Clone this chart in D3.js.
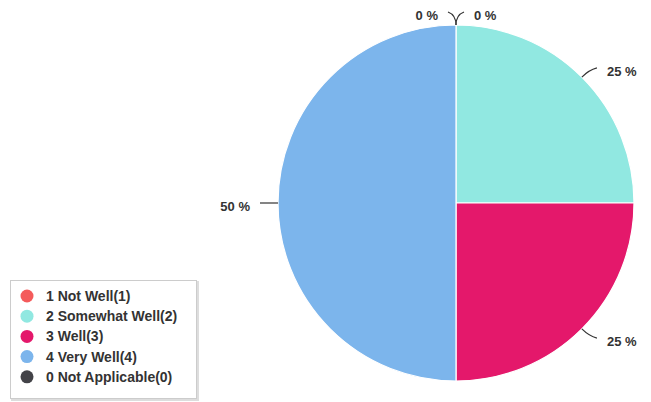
<!DOCTYPE html>
<html><head><meta charset="utf-8">
<script src="https://cdn.jsdelivr.net/npm/d3@7"></script>
<style>body{margin:0;background:#fff;}svg{display:block;font-family:"Liberation Sans",Arial,sans-serif;}</style>
</head><body>
<svg id="c" width="651" height="402"></svg>
<script>
const categories = ["1 Not Well(1)", "2 Somewhat Well(2)", "3 Well(3)", "4 Very Well(4)", "0 Not Applicable(0)"];
const values = [0, 25, 25, 50, 0];
const colors = ["#f45b5b", "#91e8e1", "#e4186b", "#7cb5ec", "#434348"];

const svg = d3.select("#c");
const cx = 456, cy = 203, r = 178;
const data = categories.map((c, i) => ({ name: c, value: values[i], color: colors[i] }));
const pie = d3.pie().sort(null).value(d => d.value);
const arcs = pie(data);
const arc = d3.arc().innerRadius(0).outerRadius(r);

const g = svg.append("g").attr("transform", `translate(${cx},${cy})`);
g.selectAll("path.slice").data(arcs.filter(d => d.data.value > 0)).join("path")
  .attr("class", "slice").attr("d", arc).attr("fill", d => d.data.color)
  .attr("stroke", "#fff").attr("stroke-width", 1.2);

const d = 10;
arcs.forEach(a => {
  const mid = (a.startAngle + a.endAngle) / 2;
  const right = mid < Math.PI;
  const p0 = [(r) * Math.sin(mid), -(r) * Math.cos(mid)];
  const el = [(r + d) * Math.sin(mid), -(r + d) * Math.cos(mid)];
  const end = [el[0] + (right ? 8 : -8), el[1] - 3 * Math.cos(mid)];
  g.append("path")
    .attr("d", `M${p0[0]},${p0[1]} Q${el[0]},${el[1]} ${end[0]},${end[1]}`)
    .attr("fill", "none").attr("stroke", "#333").attr("stroke-width", 1.2);
  g.append("text")
    .attr("x", end[0] + (right ? 10 : -10)).attr("y", end[1] + 3)
    .attr("dy", "0.35em")
    .attr("text-anchor", right ? "start" : "end")
    .attr("font-size", 13).attr("font-weight", "bold").attr("fill", "#333")
    .text(a.data.value + " %");
});

// legend
const lg = svg.append("g");
lg.append("rect").attr("x", 12).attr("y", 282).attr("width", 186).attr("height", 118)
  .attr("fill", "none").attr("stroke", "#ddd").attr("stroke-width", 2);
lg.append("rect").attr("x", 10.5).attr("y", 280.5).attr("width", 186).attr("height", 118)
  .attr("fill", "#fff").attr("stroke", "#ccc").attr("stroke-width", 1);
const y0 = 296, step = 20.2;
data.forEach((dd, i) => {
  lg.append("circle").attr("cx", 27).attr("cy", y0 + i * step).attr("r", 6.5).attr("fill", dd.color);
  lg.append("text").attr("x", 46).attr("y", y0 + i * step).attr("dy", "0.35em")
    .attr("font-size", 14).attr("font-weight", "bold").attr("fill", "#333").text(dd.name);
});
</script>
</body></html>
